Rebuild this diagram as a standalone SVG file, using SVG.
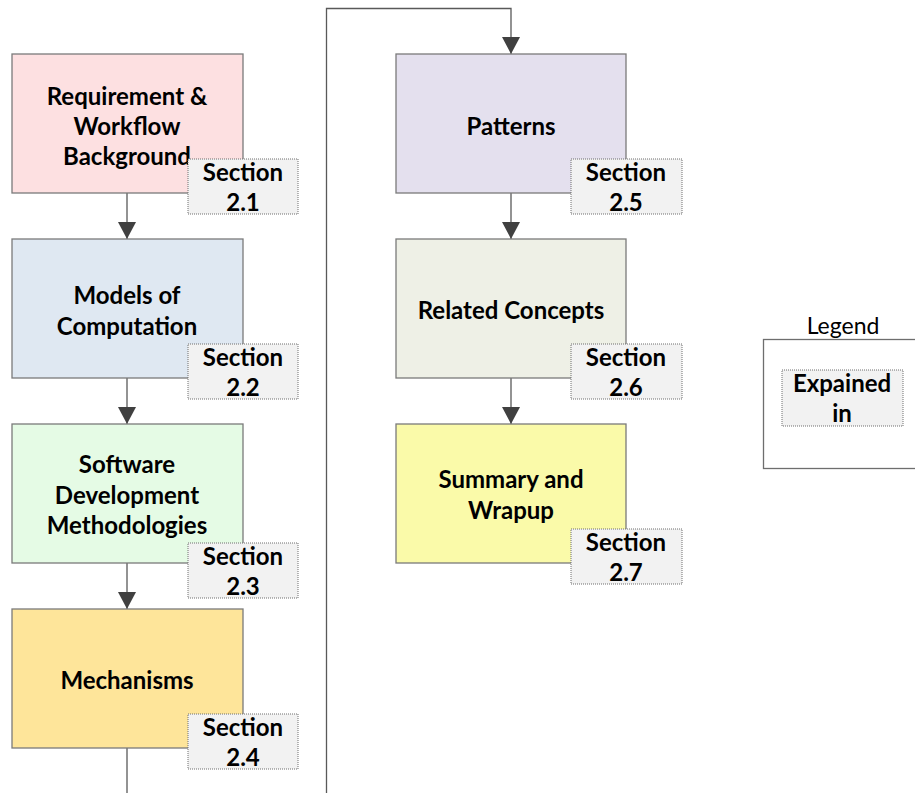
<svg xmlns="http://www.w3.org/2000/svg" width="915" height="793" viewBox="0 0 915 793">
  <style>
    .box { stroke: #7a7a7a; stroke-width: 1.3; }
    .badge { fill: #f2f2f2; stroke: #6e6e6e; stroke-width: 1; stroke-dasharray: 1 1; }
    .t { font-family: Lato, "Open Sans", "Liberation Sans", sans-serif; font-weight: bold; font-size: 24px; fill: #000; text-anchor: middle; dominant-baseline: central; }
    .lbl { font-family: Lato, "Open Sans", "Liberation Sans", sans-serif; font-size: 23px; fill: #000; text-anchor: middle; dominant-baseline: central; }
    .wire { fill: none; stroke: #595959; stroke-width: 1.3; }
  </style>
  <defs>
    <marker id="head" viewBox="0 0 17 18" refX="17" refY="9" markerWidth="17" markerHeight="18" markerUnits="userSpaceOnUse" orient="auto">
      <path d="M0,0 L17,9 L0,18 Z" fill="#404040"/>
    </marker>
  </defs>
  <rect width="915" height="793" fill="#fff"/>

  <!-- connectors -->
  <g id="connectors">
    <line class="wire" x1="127" y1="193" x2="127" y2="239" marker-end="url(#head)"/>
    <line class="wire" x1="127" y1="378" x2="127" y2="424" marker-end="url(#head)"/>
    <line class="wire" x1="127" y1="563" x2="127" y2="609" marker-end="url(#head)"/>
    <line class="wire" x1="127" y1="748" x2="127" y2="793"/>
    <polyline class="wire" points="326.5,793 326.5,8.5 511,8.5 511,54" marker-end="url(#head)"/>
    <line class="wire" x1="511" y1="193" x2="511" y2="239" marker-end="url(#head)"/>
    <line class="wire" x1="511" y1="378" x2="511" y2="424" marker-end="url(#head)"/>
  </g>

  <!-- step nodes -->
  <g id="n1">
    <rect class="box" x="12" y="54" width="231" height="139" fill="#fde0e1"/>
    <text class="t" x="127" y="95">Requirement &amp;</text>
    <text class="t" x="127" y="125">Workflow</text>
    <text class="t" x="127" y="155">Background</text>
    <rect class="badge" x="188" y="159" width="110" height="55"/>
    <text class="t" x="243" y="171">Section</text>
    <text class="t" x="243" y="201">2.1</text>
  </g>
  <g id="n2">
    <rect class="box" x="12" y="239" width="231" height="139" fill="#dfe8f2"/>
    <text class="t" x="127" y="294">Models of</text>
    <text class="t" x="127" y="325">Computation</text>
    <rect class="badge" x="188" y="344" width="110" height="55"/>
    <text class="t" x="243" y="356">Section</text>
    <text class="t" x="243" y="386">2.2</text>
  </g>
  <g id="n3">
    <rect class="box" x="12" y="424" width="231" height="139" fill="#e5fbe5"/>
    <text class="t" x="127" y="463">Software</text>
    <text class="t" x="127" y="494">Development</text>
    <text class="t" x="127" y="524">Methodologies</text>
    <rect class="badge" x="188" y="543" width="110" height="55"/>
    <text class="t" x="243" y="555">Section</text>
    <text class="t" x="243" y="585">2.3</text>
  </g>
  <g id="n4">
    <rect class="box" x="12" y="609" width="231" height="139" fill="#fee59a"/>
    <text class="t" x="127" y="679">Mechanisms</text>
    <rect class="badge" x="188" y="714" width="110" height="55"/>
    <text class="t" x="243" y="726">Section</text>
    <text class="t" x="243" y="756">2.4</text>
  </g>
  <g id="n5">
    <rect class="box" x="396" y="54" width="230" height="139" fill="#e4e0ee"/>
    <text class="t" x="511" y="125">Patterns</text>
    <rect class="badge" x="571" y="159" width="111" height="55"/>
    <text class="t" x="626" y="171">Section</text>
    <text class="t" x="626" y="201">2.5</text>
  </g>
  <g id="n6">
    <rect class="box" x="396" y="239" width="230" height="139" fill="#eef0e6"/>
    <text class="t" x="511" y="309">Related Concepts</text>
    <rect class="badge" x="571" y="344" width="111" height="55"/>
    <text class="t" x="626" y="356">Section</text>
    <text class="t" x="626" y="386">2.6</text>
  </g>
  <g id="n7">
    <rect class="box" x="396" y="424" width="230" height="139" fill="#fafaa9"/>
    <text class="t" x="511" y="478">Summary and</text>
    <text class="t" x="511" y="509">Wrapup</text>
    <rect class="badge" x="571" y="529" width="111" height="55"/>
    <text class="t" x="626" y="541">Section</text>
    <text class="t" x="626" y="571">2.7</text>
  </g>

  <!-- legend -->
  <g id="legend">
    <text class="lbl" x="843" y="325">Legend</text>
    <rect x="763.5" y="339.5" width="170" height="129" fill="#fff" stroke="#6e6e6e" stroke-width="1.3"/>
    <rect class="badge" x="782" y="370" width="121" height="56"/>
    <text class="t" x="842" y="382">Expained</text>
    <text class="t" x="842" y="412">in</text>
  </g>
</svg>
